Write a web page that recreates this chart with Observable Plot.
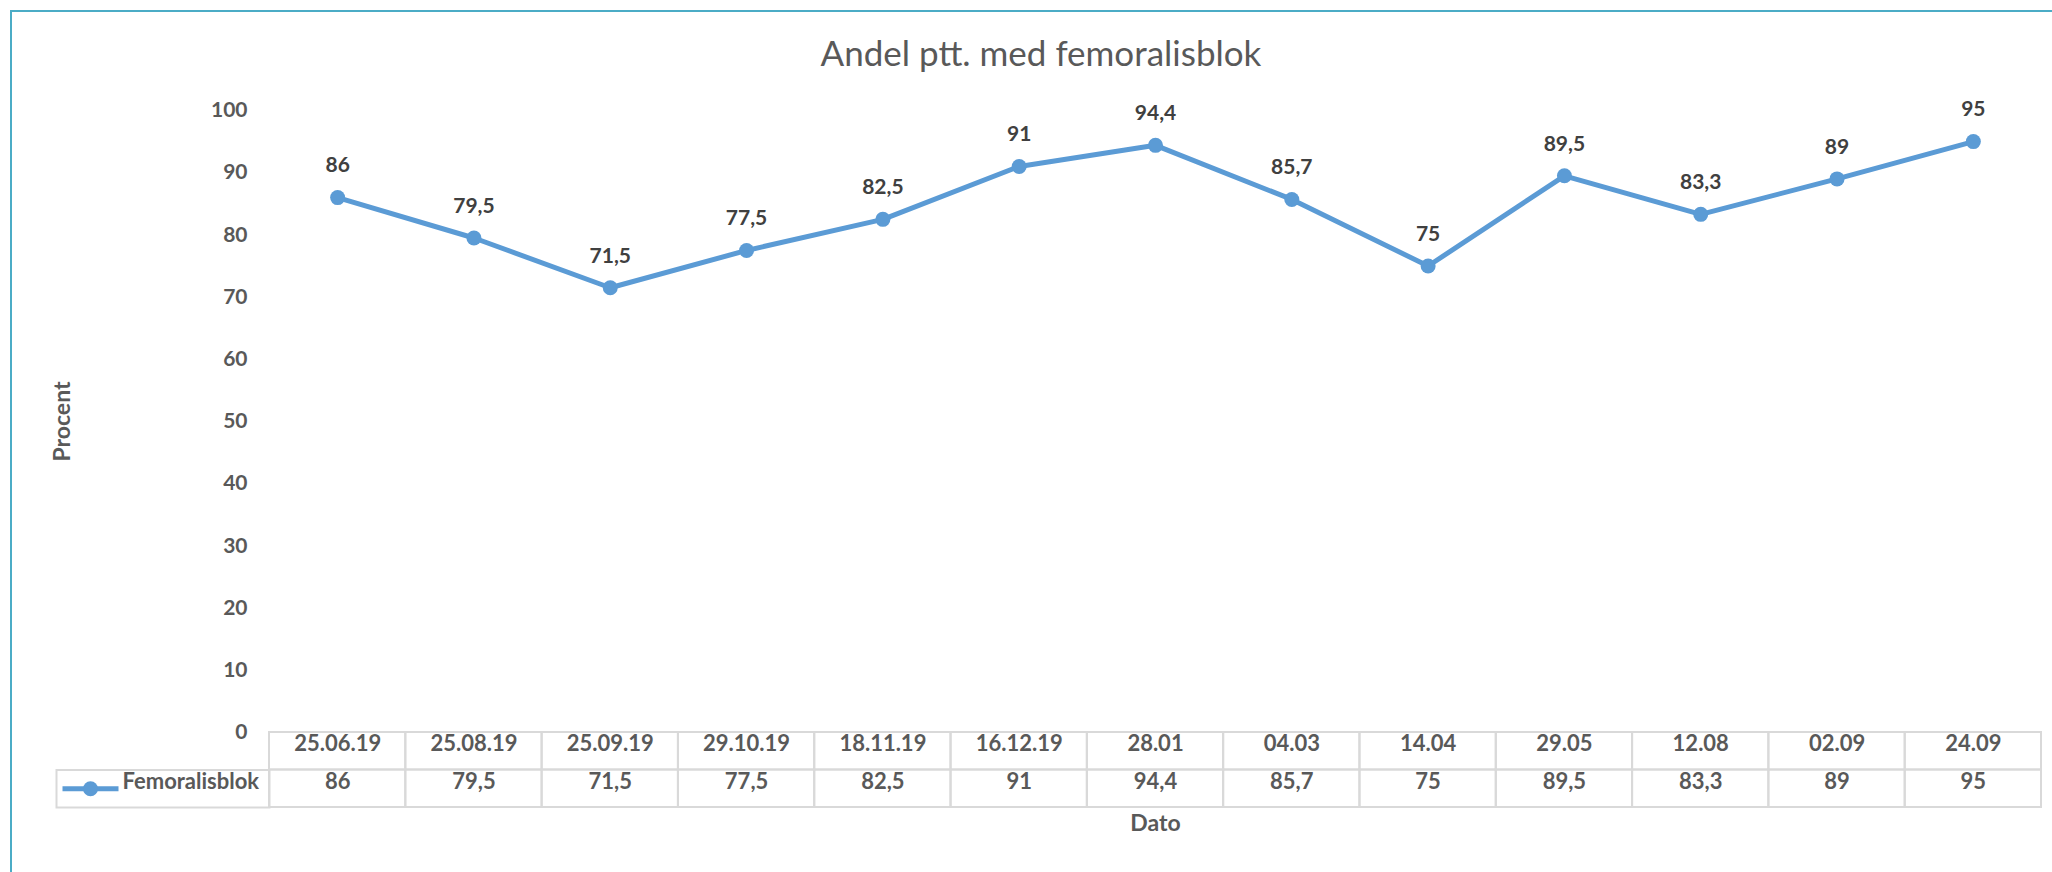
<!DOCTYPE html>
<html>
<head>
<meta charset="utf-8">
<script src="https://cdn.jsdelivr.net/npm/d3@7"></script>
<script src="https://cdn.jsdelivr.net/npm/@observablehq/plot@0.6"></script>
<style>
  html, body { margin: 0; padding: 0; background: #ffffff; overflow: hidden; }
  #wrap { position: relative; width: 2052px; height: 872px; }
  #border { position: absolute; left: 10px; top: 10px; width: 2100px; height: 900px;
            border-left: 2px solid #4bacc6; border-top: 2px solid #4bacc6; box-sizing: border-box; pointer-events: none; }
  #title { position: relative; height: 80px; }
  #title span { position: absolute; left: 1041px; top: 32px; transform: translateX(-50%);
                font-family: Lato, sans-serif; font-size: 35px; line-height: 40px; color: #595959; white-space: nowrap; }
  #chart svg { display: block; }
</style>
</head>
<body>
<div id="wrap">
  <div id="border"></div>
  <div id="title"><span id="titletext"></span></div>
  <div id="chart"></div>
</div>
<script>
// ---- data ----
const titleText = "Andel ptt. med femoralisblok";
const seriesName = "Femoralisblok";
const yLabel = "Procent";
const xLabel = "Dato";
const dates = ["25.06.19", "25.08.19", "25.09.19", "29.10.19", "18.11.19", "16.12.19", "28.01", "04.03", "14.04", "29.05", "12.08", "02.09", "24.09"];
const values = [86, 79.5, 71.5, 77.5, 82.5, 91, 94.4, 85.7, 75, 89.5, 83.3, 89, 95];
const yTicks = [0, 10, 20, 30, 40, 50, 60, 70, 80, 90, 100];

// ---- build ----
document.getElementById("titletext").textContent = titleText;

const rows = dates.map((d, i) => ({date: d, value: values[i]}));
const fmt = v => String(v).replace(".", ",");

const blue = "#5b9bd5", gridC = "#d9d9d9", txt = "#595959", lab = "#404040";
const W = 2052, H = 792, mt = 30, mb = 140, ml = 269, mr = 11;
const frameH = H - mt - mb;
const frameW = W - ml - mr;
const rowH = 37.5;
const legendW = 213;

const keyLine = {draw(ctx) { ctx.moveTo(-28, 0); ctx.lineTo(28, 0); }};

const chart = Plot.plot({
  width: W, height: H,
  marginTop: mt, marginBottom: mb, marginLeft: ml, marginRight: mr,
  style: {fontFamily: "Lato, sans-serif", fontSize: "21px", color: txt, fontWeight: "bold", background: "transparent", overflow: "visible"},
  x: {type: "band", domain: dates, padding: 0, round: false, axis: null},
  y: {domain: [0, 100], ticks: yTicks, tickSize: 0, tickPadding: 22, label: null},
  marks: [
    // data table cells
    Plot.cell(dates, {x: d => d, fill: "none", stroke: gridC, strokeWidth: 2, insetTop: frameH, insetBottom: -rowH}),
    Plot.cell(dates, {x: d => d, fill: "none", stroke: gridC, strokeWidth: 2, insetTop: frameH + rowH, insetBottom: -2 * rowH}),
    Plot.frame({stroke: gridC, strokeWidth: 2, insetLeft: -legendW, insetRight: frameW, insetTop: frameH + rowH, insetBottom: -2 * rowH}),
    Plot.text(dates, {x: d => d, text: d => d, frameAnchor: "bottom", dy: rowH / 2, fill: txt, fontSize: 22}),
    Plot.text(rows, {x: "date", text: d => fmt(d.value), frameAnchor: "bottom", dy: rowH * 1.5, fill: txt, fontSize: 22}),
    // legend key in the table
    Plot.dot([seriesName], {frameAnchor: "bottom-left", dx: -179, dy: rowH * 1.5, symbol: keyLine, stroke: blue, strokeWidth: 5, fill: "none"}),
    Plot.dot([seriesName], {frameAnchor: "bottom-left", dx: -179, dy: rowH * 1.5, r: 7.5, fill: blue}),
    Plot.text([seriesName], {frameAnchor: "bottom-left", text: d => d, dx: -147, dy: rowH * 1.5, textAnchor: "start", fill: txt, fontSize: 22}),
    // series
    Plot.line(rows, {x: "date", y: "value", stroke: blue, strokeWidth: 5, strokeLinejoin: "round"}),
    Plot.dot(rows, {x: "date", y: "value", r: 7.5, fill: blue}),
    Plot.text(rows, {x: "date", y: "value", text: d => fmt(d.value), dy: -32, fill: lab, fontSize: 21}),
    // axis titles
    Plot.text([yLabel], {frameAnchor: "left", text: d => d, dx: -207, rotate: -90, textAnchor: "middle", fill: txt, fontSize: 23}),
    Plot.text([xLabel], {frameAnchor: "bottom", text: d => d, dy: 98, fill: txt, fontSize: 23})
  ]
});
document.getElementById("chart").appendChild(chart);
</script>
</body>
</html>
